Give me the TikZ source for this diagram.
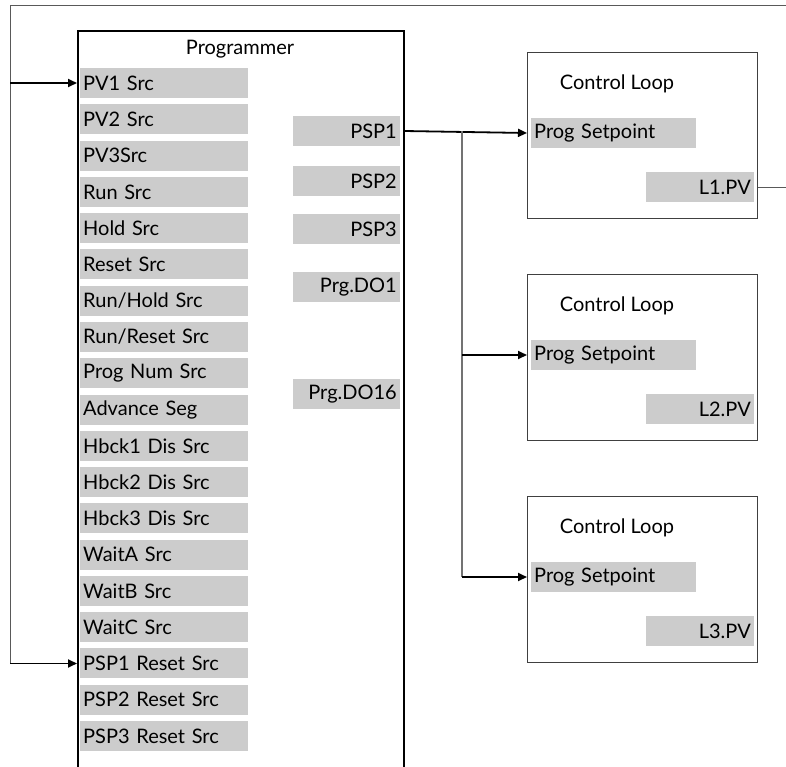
\documentclass[tikz,border=0pt]{standalone}
\usepackage{fontspec}
\setmainfont{Lato}
\usetikzlibrary{arrows.meta,positioning,calc}
\definecolor{fieldgray}{RGB}{204,204,204}
\tikzset{
  lbl/.style={font=\fontsize{20}{23}\selectfont, inner sep=0pt},
  field/.style={lbl, fill=fieldgray, minimum height=30pt, inner xsep=3pt},
  infield/.style={field, anchor=west, text width=162pt, align=left},
  outfield/.style={field, anchor=east, text width=101pt, align=right},
  spfield/.style={field, anchor=west, text width=159pt, align=left},
  pvfield/.style={field, anchor=east, text width=102pt, align=right},
  block/.style={draw, line width=1.6pt, anchor=north west, inner sep=0pt},
  loopbox/.style={draw=black!75, line width=0.9pt, anchor=north west, inner sep=0pt,
    minimum width=230pt, minimum height=166pt},
  arr/.style={-{Triangle[length=9pt,width=8pt]}, line width=1.8pt},
  fb/.style={draw=black!65, line width=1pt},
  branch/.style={draw=black!55, line width=1.3pt}}

\begin{document}
\begin{tikzpicture}[x=1pt,y=-1pt]
  \useasboundingbox (0,0) rectangle (786,766);
  % programmer block, runs off the bottom
  \node[block, minimum width=326pt, minimum height=760pt] (prog) at (77,30) {};
  \node[lbl] (progtitle) at (240,49) {Programmer};
  \foreach \txt [count=\i] in {{PV1 Src},{PV2 Src},{PV3Src},{Run Src},{Hold Src},
      {Reset Src},{Run/Hold Src},{Run/Reset Src},{Prog Num Src},{Advance Seg},
      {Hbck1 Dis Src},{Hbck2 Dis Src},{Hbck3 Dis Src},{WaitA Src},{WaitB Src},
      {WaitC Src},{PSP1 Reset Src},{PSP2 Reset Src},{PSP3 Reset Src}}
    \node[infield] (in\i) at (80,{83+(\i-1)*36.28}) {\txt};
  \node[outfield] (psp1) at (400,131) {PSP1};
  \node[outfield] (psp2) at (400,181) {PSP2};
  \node[outfield] (psp3) at (400,229) {PSP3};
  \node[outfield] (do1) at (400,287) {Prg.DO1};
  \node[outfield] (do16) at (400,394) {Prg.DO16};
  % control loops
  \foreach \n/\top in {1/52,2/274,3/496} {
    \node[loopbox] (loop\n) at (527,\top) {};
    \node[lbl] (ltitle\n) at (617,\top+32) {Control Loop};
    \node[spfield] (sp\n) at (531,\top+81) {Prog Setpoint};
    \node[pvfield] (pv\n) at (754,\top+135) {L\n.PV};
  }
  % setpoint distribution
  \coordinate (br) at (462,131);
  \draw[arr] (prog.east |- psp1) -- (loop1.west |- sp1);
  \draw[branch] (br) -- (br |- sp3);
  \draw[arr] (br |- sp2) -- (loop2.west |- sp2);
  \draw[arr] (br |- sp3) -- (loop3.west |- sp3);
  % PV feedback
  \coordinate (fbr) at (787,5);
  \coordinate (fbl) at (10,5);
  \draw[fb] (loop1.east |- pv1) -- (fbr |- pv1) -- (fbr) -- (fbl) -- (fbl |- in17);
  \draw[arr] (fbl |- in1) -- (prog.west |- in1);
  \draw[arr] (fbl |- in17) -- (prog.west |- in17);
\end{tikzpicture}
\end{document}
